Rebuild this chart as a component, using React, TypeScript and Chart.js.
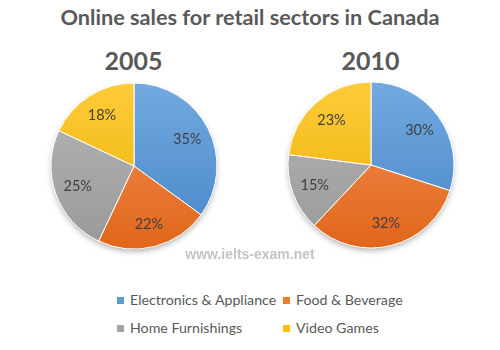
import React, { useEffect, useRef } from "react";
import { Chart, registerables } from "chart.js";

Chart.register(...registerables);

const categories = ["Electronics & Appliance", "Food & Beverage", "Home Furnishings", "Video Games"];
const years = ["2005", "2010"];
const values2005 = [35, 22, 25, 18];
const values2010 = [30, 32, 15, 23];
const seriesValues = [values2005, values2010];
const colorsTop = ["#72aae0", "#f3925a", "#b6b6b6", "#ffcb3a"];
const colorsBottom = ["#4685c8", "#e0661a", "#999999", "#e8b000"];
const legendColors = ["#5b9bd5", "#ed7d31", "#a5a5a5", "#ffc000"];
const titleText = "Online sales for retail sectors in Canada";
const watermark = "www.ielts-exam.net";

const FONT = "Lato, 'Open Sans', sans-serif";

const labelPlugin = {
  id: "pctLabels",
  beforeDatasetsDraw(chart: any) {
    const meta = chart.getDatasetMeta(0);
    const arc = meta.data[0];
    if (!arc) return;
    const { x, y, outerRadius } = arc.getProps(["x", "y", "outerRadius"], true);
    const ctx = chart.ctx;
    ctx.save();
    ctx.shadowColor = "rgba(0,0,0,0.35)";
    ctx.shadowBlur = 6;
    ctx.shadowOffsetY = 3;
    ctx.beginPath();
    ctx.arc(x, y, outerRadius - 1, 0, Math.PI * 2);
    ctx.fillStyle = "#ffffff";
    ctx.fill();
    ctx.restore();
  },
  afterDatasetsDraw(chart: any) {
    const ctx = chart.ctx;
    const meta = chart.getDatasetMeta(0);
    const data = chart.data.datasets[0].data;
    ctx.save();
    ctx.font = `14.5px ${FONT}`;
    ctx.fillStyle = "#404040";
    ctx.textAlign = "center";
    ctx.textBaseline = "middle";
    meta.data.forEach((el: any, i: number) => {
      const { x, y, startAngle, endAngle, outerRadius } = el.getProps(
        ["x", "y", "startAngle", "endAngle", "outerRadius"],
        true
      );
      const mid = (startAngle + endAngle) / 2;
      const r = outerRadius * 0.72;
      ctx.fillText(`${data[i]}%`, x + Math.cos(mid) * r, y + Math.sin(mid) * r);
    });
    ctx.restore();
  },
};

function Pie({ values, cx, cy }: { values: number[]; cx: number; cy: number }) {
  const ref = useRef<HTMLCanvasElement>(null);
  useEffect(() => {
    if (!ref.current) return;
    const R = 83;
    const chart = new Chart(ref.current, {
      type: "pie",
      data: {
        labels: categories,
        datasets: [
          {
            data: values,
            backgroundColor: (c: any) => {
              const ch = c.chart;
              const area = ch.chartArea;
              if (!area) return legendColors[c.dataIndex];
              const mcy = (area.top + area.bottom) / 2;
              const g = ch.ctx.createLinearGradient(0, mcy - R, 0, mcy + R);
              g.addColorStop(0, colorsTop[c.dataIndex]);
              g.addColorStop(1, colorsBottom[c.dataIndex]);
              return g;
            },
            borderColor: "#ffffff",
            borderWidth: 1,
          },
        ],
      },
      options: {
        responsive: false,
        animation: false,
        radius: R,
        layout: { padding: 0 },
        plugins: {
          legend: { display: false },
          tooltip: { enabled: false },
          title: { display: false },
        },
      } as any,
      plugins: [labelPlugin],
    });
    return () => chart.destroy();
  }, [values]);
  return (
    <canvas
      ref={ref}
      width={200}
      height={200}
      style={{ position: "absolute", left: cx - 100, top: cy - 100, width: 200, height: 200 }}
    />
  );
}

export default function App() {
  const centers = [
    { cx: 133.5, cy: 166 },
    { cx: 370.5, cy: 165 },
  ];
  return (
    <div
      style={{
        position: "fixed",
        left: 0,
        top: 0,
        width: 500,
        height: 350,
        background: "#ffffff",
        fontFamily: FONT,
        overflow: "hidden",
      }}
    >
      <div
        style={{
          position: "absolute",
          left: 0,
          width: 500,
          top: 3,
          textAlign: "center",
          fontSize: 21.7,
          fontWeight: 700,
          color: "#595959",
          lineHeight: "28px",
        }}
      >
        {titleText}
      </div>
      {years.map((y, i) => (
        <div
          key={y}
          style={{
            position: "absolute",
            left: centers[i].cx - 60,
            width: 120,
            top: 44,
            textAlign: "center",
            fontSize: 25,
            fontWeight: 700,
            color: "#595959",
            lineHeight: "32px",
          }}
        >
          {y}
        </div>
      ))}
      {seriesValues.map((v, i) => (
        <Pie key={i} values={v} cx={centers[i].cx} cy={centers[i].cy} />
      ))}
      <div
        style={{
          position: "absolute",
          left: 0,
          width: 500,
          top: 246,
          textAlign: "center",
          fontFamily: "'Liberation Sans', Arial, sans-serif",
          fontSize: 14,
          fontWeight: 700,
          color: "#c4c4c4",
          lineHeight: "16px",
        }}
      >
        {watermark}
      </div>
      {categories.map((c, i) => {
        const col = i % 2;
        const row = Math.floor(i / 2);
        return (
          <div
            key={c}
            style={{
              position: "absolute",
              left: col === 0 ? 117 : 283,
              top: row === 0 ? 290 : 318,
              display: "flex",
              alignItems: "center",
              fontSize: 14.2,
              color: "#595959",
              lineHeight: "20px",
              whiteSpace: "nowrap",
            }}
          >
            <span
              style={{
                display: "inline-block",
                width: 7,
                height: 7,
                background: legendColors[i],
                marginRight: 6,
              }}
            />
            {c}
          </div>
        );
      })}
    </div>
  );
}
